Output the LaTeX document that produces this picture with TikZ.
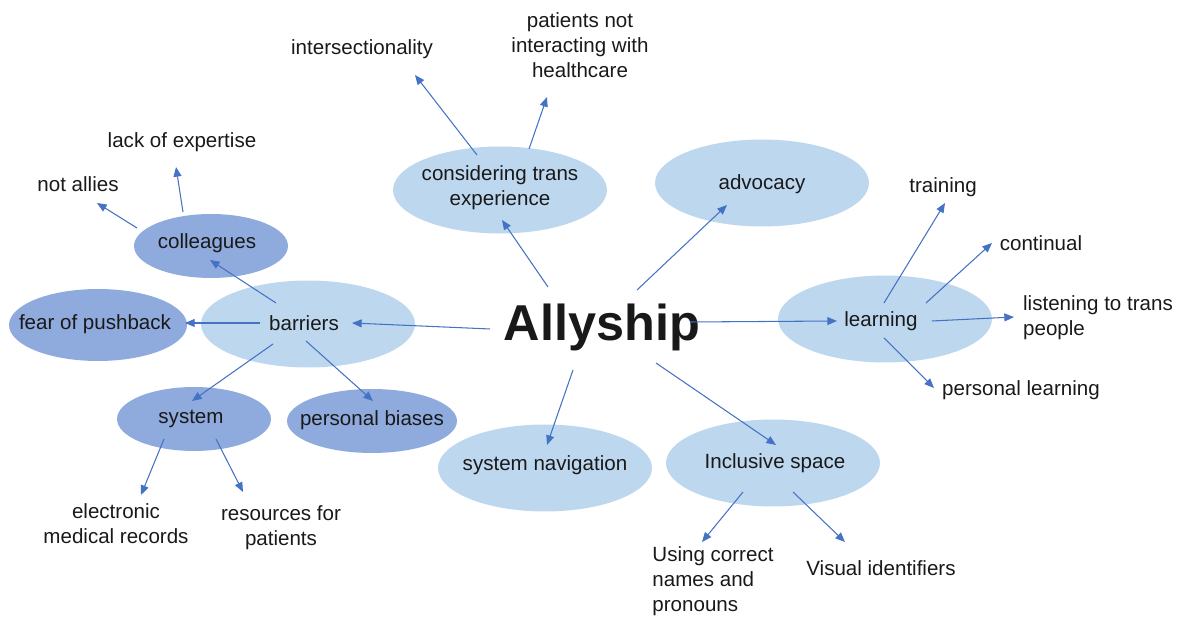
\documentclass[tikz,border=0pt]{standalone}
\usepackage{fontspec}
\setmainfont{Liberation Sans}
\usepackage{tikz}
\usetikzlibrary{arrows.meta}

\definecolor{softblue}{HTML}{BDD7EE}
\definecolor{midblue}{HTML}{8FAADC}
\definecolor{linkblue}{HTML}{4472C4}

\tikzset{
  every node/.style={font=\fontsize{11.7}{14.2}\selectfont, text=black!90},
  arr/.style={draw=linkblue, line width=0.6pt, -{Triangle[length=5.5pt,width=4.5pt]}},
  wide/.style={x radius=2.14cm, y radius=0.87cm},
  small/.style={x radius=1.54cm, y radius=0.64cm}
}

\begin{document}
\begin{tikzpicture}[x=0.02cm, y=-0.02cm]
\useasboundingbox (0,0) rectangle (1178,617);

% ellipses behind the labels
\fill[softblue] (500,190) ellipse [wide];
\fill[softblue] (762,183) ellipse [wide];
\fill[softblue] (885,319) ellipse [wide];
\fill[softblue] (308,324) ellipse [wide];
\fill[softblue] (545,468) ellipse [wide];
\fill[softblue] (773,463) ellipse [wide];
\fill[midblue] (211,246) ellipse [small];
\fill[midblue] (98,325) ellipse [x radius=1.78cm, y radius=0.72cm];
\fill[midblue] (194,419) ellipse [small];
\fill[midblue] (372,421) ellipse [x radius=1.7cm, y radius=0.64cm];

% centre and first ring
\node (ally) at (602,327) {\fontsize{28.7}{34}\selectfont\bfseries Allyship};
\node[align=center] (cons) at (500,188) {considering trans\\experience};
\node (advo) at (762,184) {advocacy};
\node (learn) at (881,321) {learning};
\node (barr) at (304,323) {barriers};
\node (syn) at (545,465) {system navigation};
\node (incl) at (775,463) {Inclusive space};

% second ring
\node (inter) at (362,49) {intersectionality};
\node[align=center] (pat) at (580,45) {patients not\\interacting with\\healthcare};
\node (coll) at (207,243) {colleagues};
\node (fear) at (95,324) {fear of pushback};
\node (sys) at (191,419) {system};
\node (bias) at (372,420) {personal biases};
\node (notal) at (78,184) {not allies};
\node (lack) at (182,142) {lack of expertise};
\node[align=center] (elec) at (116,524) {electronic\\medical records};
\node[align=center] (res) at (281,528) {resources for\\patients};
\node (train) at (943,187) {training};
\node (cont) at (1041,243) {continual};
\node[align=left] (listen) at (1098,318) {listening to trans\\people};
\node (perl) at (1021,390) {personal learning};
\node[align=left] (using) at (713,581) {Using correct\\names and\\pronouns};
\node (vis) at (881,568) {Visual identifiers};

% links
\draw[arr] ([shift={(-54,-40)}]ally.center) -- ([shift={(2,32)}]cons.center);
\draw[arr] ([shift={(35,-37)}]ally.center) -- ([shift={(-35,21)}]advo.center);
\draw[arr] ([shift={(88,-5)}]ally.center) -- ([shift={(-44,0)}]learn.center);
\draw[arr] ([shift={(-112,2)}]ally.center) -- ([shift={(48,0)}]barr.center);
\draw[arr] ([shift={(-29,43)}]ally.center) -- ([shift={(2,-20)}]syn.center);
\draw[arr] ([shift={(54,36)}]ally.center) -- ([shift={(1,-18)}]incl.center);

\draw[arr] ([shift={(-23,-33)}]cons.center) -- ([shift={(53,26)}]inter.center);
\draw[arr] ([shift={(29,-39)}]cons.center) -- ([shift={(-33,52)}]pat.center);

\draw[arr] ([shift={(-28,-20)}]barr.center) -- ([shift={(3,17)}]coll.center);
\draw[arr] ([shift={(-44,0)}]barr.center) -- ([shift={(90,-1)}]fear.center);
\draw[arr] ([shift={(-31,21)}]barr.center) -- ([shift={(1,-18)}]sys.center);
\draw[arr] ([shift={(2,18)}]barr.center) -- ([shift={(1,-19)}]bias.center);

\draw[arr] ([shift={(-70,-15)}]coll.center) -- ([shift={(19,19)}]notal.center);
\draw[arr] ([shift={(-24,-31)}]coll.center) -- ([shift={(-6,25)}]lack.center);

\draw[arr] ([shift={(-27,20)}]sys.center) -- ([shift={(25,-29)}]elec.center);
\draw[arr] ([shift={(25,20)}]sys.center) -- ([shift={(-38,-36)}]res.center);

\draw[arr] ([shift={(3,-18)}]learn.center) -- ([shift={(2,16)}]train.center);
\draw[arr] ([shift={(45,-18)}]learn.center) -- ([shift={(-49,0)}]cont.center);
\draw[arr] ([shift={(51,0)}]learn.center) -- ([shift={(-84,-1)}]listen.center);
\draw[arr] ([shift={(3,17)}]learn.center) -- ([shift={(-87,-2)}]perl.center);

\draw[arr] ([shift={(-32,29)}]incl.center) -- ([shift={(-11,-39)}]using.center);
\draw[arr] ([shift={(18,29)}]incl.center) -- ([shift={(-36,-26)}]vis.center);
\end{tikzpicture}
\end{document}
